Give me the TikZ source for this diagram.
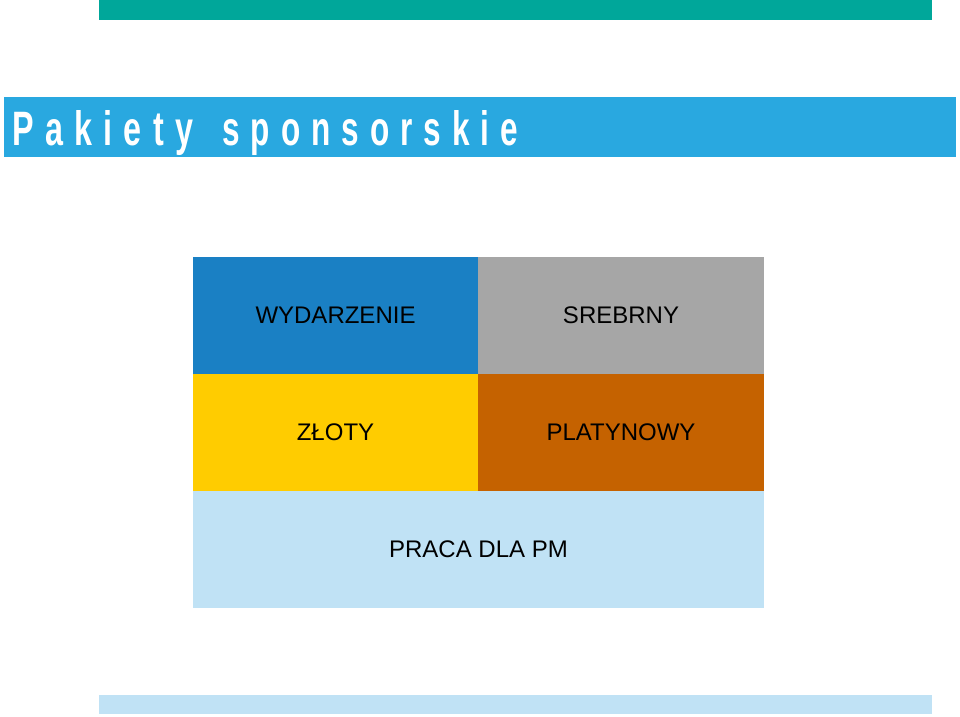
\documentclass[tikz,border=0pt]{standalone}
\usepackage{fontspec}
\setmainfont{Liberation Sans}
\newfontfamily\titlefont[FakeStretch=0.8,LetterSpace=28]{Liberation Sans Bold}
\definecolor{teal}{HTML}{00A79A}
\definecolor{titleblue}{HTML}{29A8E0}
\definecolor{cellblue}{HTML}{1A80C4}
\definecolor{cellgrey}{HTML}{A6A6A6}
\definecolor{cellyellow}{HTML}{FFCC00}
\definecolor{cellorange}{HTML}{C56200}
\definecolor{lightblue}{HTML}{C0E2F5}
\begin{document}
\begin{tikzpicture}[x=1pt,y=-1pt,
  cell/.style={draw=none,inner sep=0pt,minimum width=286pt,minimum height=117.5pt,
    font=\fontsize{24}{28}\selectfont,text=black},
  titleword/.style={anchor=base west,inner sep=0pt,text=white}]
\useasboundingbox (0,0) rectangle (960,716);
\fill[white] (0,0) rectangle (960,716);
\node[fill=teal,inner sep=0pt,minimum width=833pt,minimum height=20pt] (topbar) at (515.5,10) {};
\node[fill=titleblue,inner sep=0pt,minimum width=952pt,minimum height=60pt] (titlebar) at (480,127) {};
\node[titleword] (title1) at (12,145.5)
  {\resizebox{181pt}{35pt}{\titlefont Pakiety}};
\node[titleword] (title2) at (222,145.5)
  {\resizebox{296pt}{35pt}{\titlefont sponsorskie}};
\node[cell,fill=cellblue] (wyd) at (335.5,315.5) {WYDARZENIE};
\node[cell,fill=cellgrey] (sreb) at (621,315.5) {SREBRNY};
\node[cell,fill=cellyellow] (zloty) at (335.5,432.5) {ZŁOTY};
\node[cell,fill=cellorange] (plat) at (621,432.5) {PLATYNOWY};
\node[cell,fill=lightblue,minimum width=571pt] (praca) at (478.5,549.5) {PRACA DLA PM};
\node[fill=lightblue,inner sep=0pt,minimum width=833pt,minimum height=19pt] (botbar) at (515.5,704.5) {};
\end{tikzpicture}
\end{document}
